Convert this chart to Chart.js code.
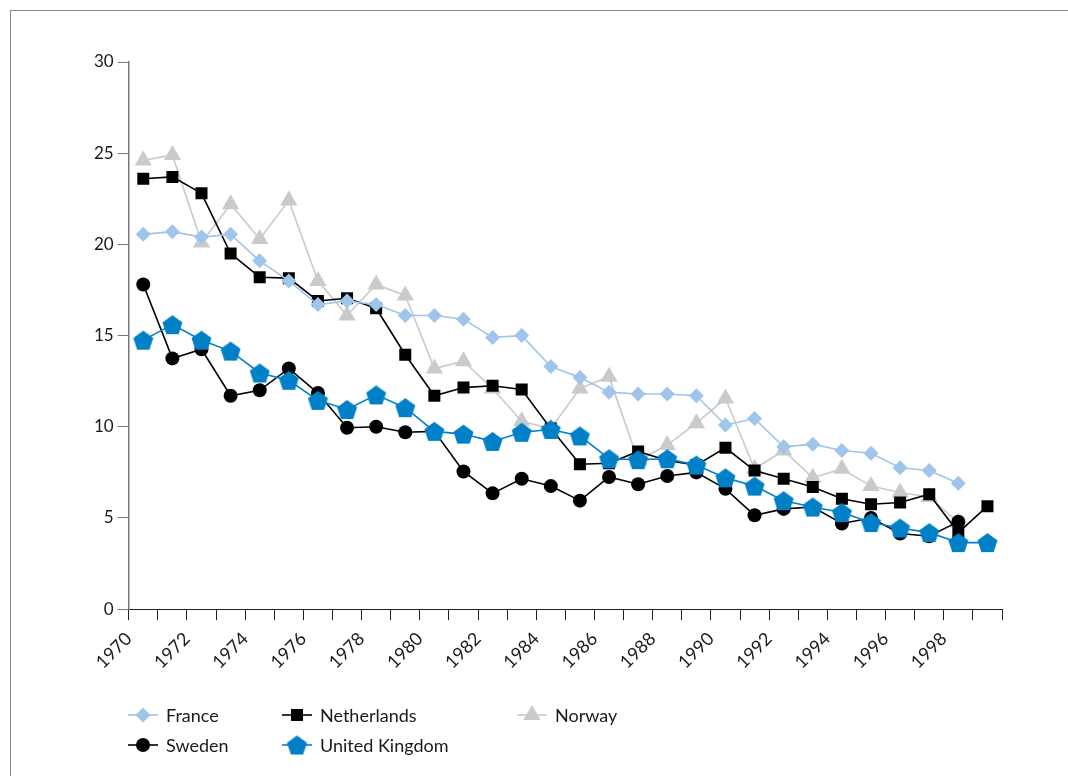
<!DOCTYPE html>
<html><head><meta charset="utf-8">
<script src="https://cdn.jsdelivr.net/npm/chart.js@4.4.1/dist/chart.umd.min.js"></script>
<style>
body{margin:0;background:#fff}
#wrap{position:relative;width:1068px;height:776px;overflow:hidden;background:#fff}
#frame{position:absolute;left:10px;top:10px;width:1100px;height:800px;border:1px solid #8a8a8a}
canvas{position:absolute;left:0;top:0}
</style></head><body>
<div id="wrap"><div id="frame"></div><canvas id="c" width="1068" height="776"></canvas></div>
<script>
// yearly values, one per year 1970..1999 (null = no data)
const years = [1970,1971,1972,1973,1974,1975,1976,1977,1978,1979,1980,1981,1982,1983,1984,1985,1986,1987,1988,1989,1990,1991,1992,1993,1994,1995,1996,1997,1998,1999]
const france = [20.55,20.7,20.4,20.55,19.1,18.0,16.7,16.9,16.7,16.1,16.1,15.9,14.9,15.0,13.3,12.7,11.9,11.8,11.8,11.7,10.1,10.45,8.9,9.05,8.7,8.55,7.75,7.6,6.9,null]
const netherlands = [23.6,23.7,22.8,19.5,18.2,18.15,16.9,17.05,16.5,13.95,11.7,12.15,12.25,12.05,9.9,7.95,8.0,8.65,8.15,7.9,8.85,7.6,7.15,6.7,6.05,5.75,5.85,6.3,4.2,5.65]
const norway = [24.6,24.9,20.1,22.2,20.3,22.4,18.0,16.1,17.8,17.2,13.2,13.6,12.1,10.3,9.9,12.1,12.75,8.15,9.0,10.2,11.55,7.7,8.7,7.2,7.7,6.75,6.4,6.15,4.75,null]
const sweden = [17.8,13.75,14.25,11.7,12.0,13.2,11.85,9.95,10.0,9.7,9.75,7.55,6.35,7.15,6.75,5.95,7.25,6.85,7.3,7.5,6.6,5.15,5.5,5.6,4.7,5.0,4.15,4.0,4.8,null]
const uk = [14.75,15.6,14.75,14.15,12.95,12.55,11.45,10.95,11.75,11.05,9.75,9.6,9.2,9.7,9.85,9.5,8.25,8.2,8.25,7.9,7.2,6.75,5.95,5.6,5.3,4.75,4.45,4.2,3.65,3.65]
const yTicks = [0,5,10,15,20,25,30]

const FONT = 'Lato, "Noto Sans", sans-serif'

// pentagon marker
function pentagon(color, r){
  const c = document.createElement('canvas')
  c.width = c.height = Math.ceil(r*2+4)
  const g = c.getContext('2d')
  const cx = c.width/2, cy = c.height/2 + r*0.1
  g.beginPath()
  for(let i=0;i<5;i++){
    const a = -Math.PI/2 + i*2*Math.PI/5
    g.lineTo(cx + r*Math.cos(a), cy + r*Math.sin(a))
  }
  g.closePath()
  g.fillStyle = color
  g.fill()
  return c
}

function pts(arr){
  const out = []
  arr.forEach((v,i)=>{ if(v!=null) out.push({x:years[i]+0.5, y:v}) })
  return out
}

function ds(label, arr, color, style, radius, order){
  return {label:label, data:pts(arr), borderColor:color, backgroundColor:color,
    borderWidth:1.6, pointStyle:style, pointRadius:radius, pointBorderWidth:0,
    pointBackgroundColor:color, pointBorderColor:color, tension:0, order:order, fill:false}
}

const datasets = [
  ds('France', france, '#9fc5ea', 'rectRot', 7.5, 2),
  ds('Netherlands', netherlands, '#000000', 'rect', 8.5, 3),
  ds('Norway', norway, '#cacaca', 'triangle', 10, 4),
  ds('Sweden', sweden, '#000000', 'circle', 7, 1),
  ds('United Kingdom', uk, '#0080c6', pentagon('#0080c6', 10.5), 10, 0)
]

// legend layout: [dataset index, left of line, centre y]
const legendPos = [[0,128,715],[1,282,715],[2,517,715],[3,128,745],[4,282,745]]

const legendPlugin = {
  id:'customLegend',
  afterDraw(chart){
    const ctx = chart.ctx
    ctx.save()
    legendPos.forEach(p=>{
      const d = chart.data.datasets[p[0]]
      ctx.strokeStyle = d.borderColor
      ctx.lineWidth = 1.6
      ctx.beginPath(); ctx.moveTo(p[1],p[2]); ctx.lineTo(p[1]+30,p[2]); ctx.stroke()
      ctx.fillStyle = d.borderColor
      Chart.helpers.drawPoint(ctx, {pointStyle:d.pointStyle, radius:d.pointRadius, rotation:0, borderWidth:0}, p[1]+15, p[2])
      ctx.fillStyle = '#1a1a1a'
      ctx.font = '18px ' + FONT
      ctx.textBaseline = 'middle'
      ctx.fillText(d.label, p[1]+38, p[2]+1)
    })
    ctx.restore()
  }
}

new Chart(document.getElementById('c'), {
  type:'line',
  data:{datasets:datasets},
  plugins:[legendPlugin],
  options:{
    responsive:false,
    animation:false,
    layout:{padding:{left:90, top:62, right:66, bottom:95}},
    plugins:{legend:{display:false}, tooltip:{enabled:false}},
    scales:{
      x:{
        type:'linear', min:1970, max:2000,
        grid:{drawOnChartArea:false, drawTicks:true, tickLength:11, color:'#222', lineWidth:1},
        border:{display:true, color:'#222', width:1},
        ticks:{stepSize:1, autoSkip:false, maxRotation:45, minRotation:45, padding:8,
          color:'#1a1a1a', font:{family:FONT, size:18},
          callback:v => (v%2===0 && v<2000) ? String(v) : ''}
      },
      y:{
        min:0, max:30,
        afterBuildTicks:s => { s.ticks = yTicks.map(v=>({value:v})) },
        grid:{drawOnChartArea:false, drawTicks:true, tickLength:11, color:'#777'},
        border:{display:true, color:'#777', width:1.5},
        ticks:{color:'#1a1a1a', padding:4, font:{family:FONT, size:17}}
      }
    }
  }
})
</script>
</body></html>
